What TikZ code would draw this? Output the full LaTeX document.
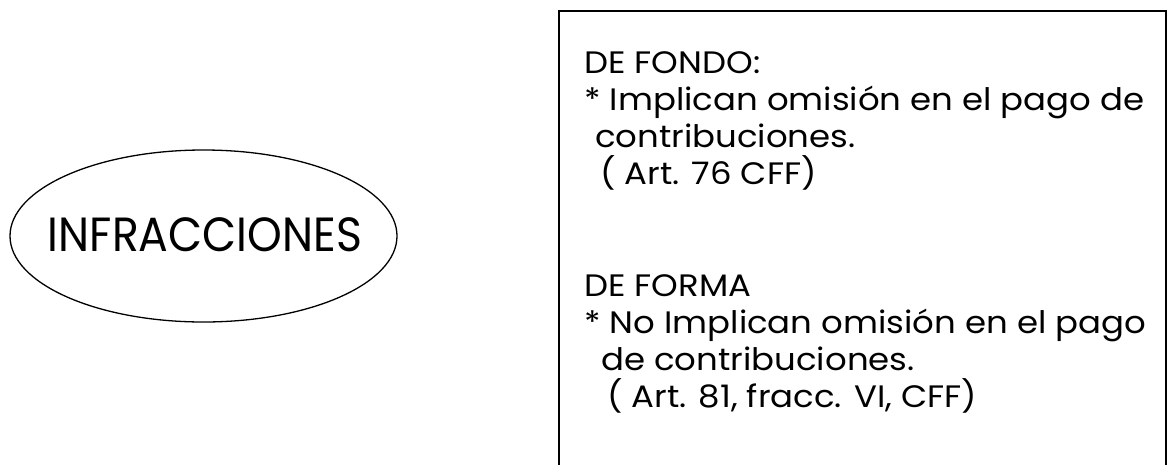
\documentclass[tikz,border=0pt]{standalone}
\usepackage{fontspec}
\setmainfont{Poppins}
\usetikzlibrary{shapes.geometric}
\newcommand{\wide}[1]{\scalebox{1.095}[1]{#1}}
\begin{document}
\begin{tikzpicture}[x=1pt,y=-1pt,
  boxline/.style={line width=2.6pt},
  txt/.style={anchor=base west,inner sep=0pt,font=\fontsize{31}{37}\selectfont},
  title/.style={inner sep=0pt,font=\fontsize{48}{54}\selectfont}]
\useasboundingbox (0,0) rectangle (1173,464);
\fill[white] (0,0) rectangle (1173,464);
% ellipse with title
\node[draw,ellipse,line width=1.3pt,minimum width=387pt,minimum height=172pt,inner sep=0pt] (ell) at (203.5,236) {};
\node[title] (t) at (205,235) {\scalebox{0.92}[1]{INFRACCIONES}};
% box
\draw[boxline] (559,480) -- (559,11) -- (1166,11) -- (1166,480);
\node[txt] (a1) at (584,73) {\wide{DE FONDO:}};
\node[txt] (a2) at (584,110) {\wide{* Implican omisión en el pago de}};
\node[txt] (a3) at (595,147) {\wide{contribuciones.}};
\node[txt] (a4) at (600,184) {\wide{( Art. 76 CFF)}};
\node[txt] (b1) at (584,296) {\wide{DE FORMA}};
\node[txt] (b2) at (584,333) {\wide{* No Implican omisión en el pago}};
\node[txt] (b3) at (601,370) {\wide{de contribuciones.}};
\node[txt] (b4) at (607,407) {\wide{( Art. 81, fracc. VI, CFF)}};
\end{tikzpicture}
\end{document}
